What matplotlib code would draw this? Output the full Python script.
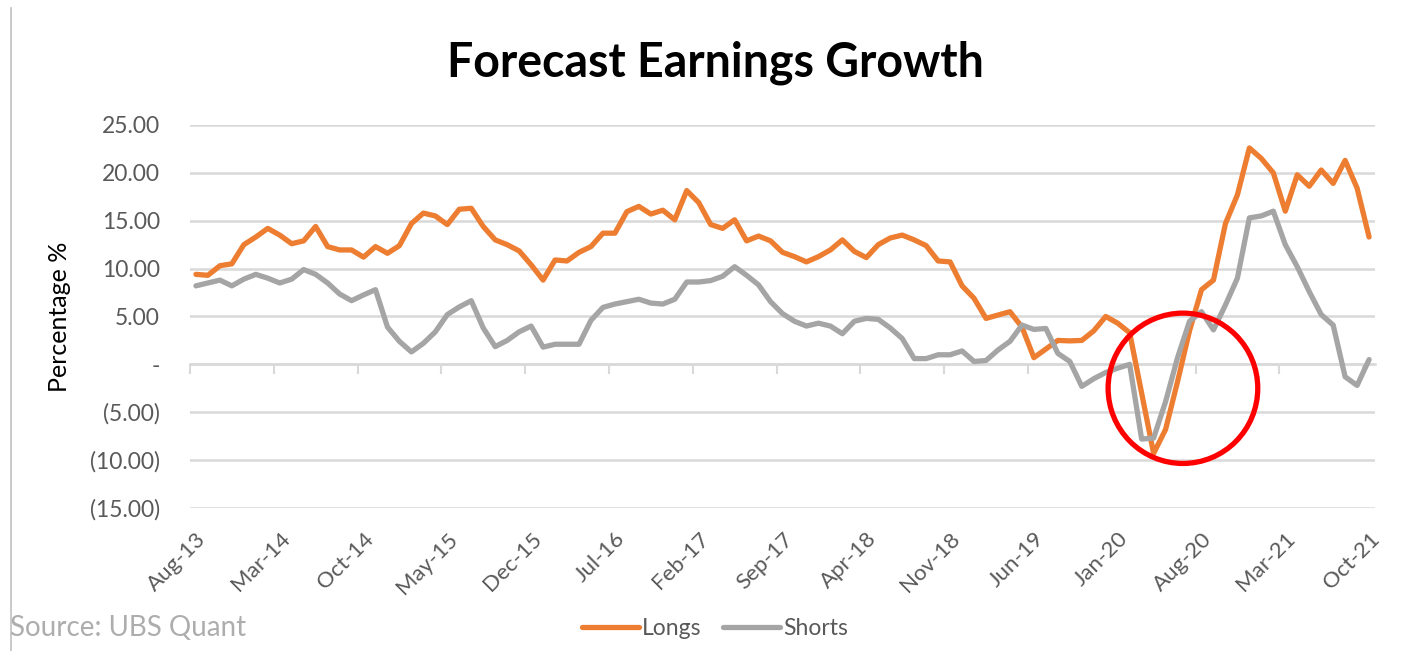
import matplotlib
matplotlib.use("Agg")
import matplotlib.pyplot as plt
from matplotlib.patches import Ellipse
from matplotlib.lines import Line2D
import numpy as np

plt.rcParams['font.family'] = ['Lato', 'DejaVu Sans']

# ---------------- data ----------------
longs = [9.4, 9.3, 10.3, 10.5, 12.5, 13.3, 14.2, 13.5, 12.6, 12.9,
         14.4, 12.3, 11.95, 11.95, 11.2, 12.3, 11.6, 12.4, 14.7, 15.8,
         15.5, 14.6, 16.2, 16.3, 14.4, 13.0, 12.5, 11.85, 10.4, 8.8,
         10.9, 10.8, 11.7, 12.3, 13.7, 13.7, 15.95, 16.5, 15.7, 16.1,
         15.1, 18.15, 16.9, 14.6, 14.2, 15.1, 12.9, 13.4, 12.9, 11.7,
         11.25, 10.7, 11.25, 11.95, 13.0, 11.8, 11.15, 12.5, 13.2, 13.5,
         13.0, 12.4, 10.8, 10.7, 8.2, 6.9, 4.8, 5.15, 5.5, 3.9,
         0.7, 1.6, 2.5, 2.45, 2.5, 3.5, 5.0, 4.3, 3.3, -3.0,
         -9.3, -6.8, -1.8, 3.5, 7.8, 8.8, 14.7, 17.7, 22.6, 21.5,
         20.0, 16.0, 19.8, 18.6, 20.3, 18.9, 21.3, 18.4, 13.3]

shorts = [8.2, 8.5, 8.8, 8.2, 8.9, 9.4, 9.0, 8.5, 8.9, 9.9,
          9.4, 8.5, 7.35, 6.65, 7.25, 7.8, 3.9, 2.4, 1.3, 2.2,
          3.4, 5.2, 6.0, 6.65, 3.8, 1.85, 2.5, 3.4, 4.0, 1.8,
          2.1, 2.1, 2.1, 4.6, 5.95, 6.3, 6.55, 6.8, 6.4, 6.3,
          6.8, 8.6, 8.6, 8.75, 9.2, 10.2, 9.3, 8.3, 6.55, 5.3,
          4.5, 4.0, 4.3, 4.0, 3.2, 4.5, 4.8, 4.7, 3.8, 2.7,
          0.6, 0.6, 1.0, 1.0, 1.4, 0.3, 0.4, 1.5, 2.4, 4.1,
          3.65, 3.75, 1.15, 0.3, -2.3, -1.5, -0.85, -0.4, 0.0, -7.8,
          -7.7, -3.9, 0.7, 4.5, 5.5, 3.6, 6.2, 9.0, 15.3, 15.5,
          16.0, 12.5, 10.2, 7.6, 5.2, 4.1, -1.3, -2.2, 0.5]

x_labels = ['Aug-13', 'Mar-14', 'Oct-14', 'May-15', 'Dec-15', 'Jul-16', 'Feb-17',
            'Sep-17', 'Apr-18', 'Nov-18', 'Jun-19', 'Jan-20', 'Aug-20', 'Mar-21', 'Oct-21']
label_step = 7
y_ticks = [25, 20, 15, 10, 5, 0, -5, -10, -15]
y_labels = ['25.00', '20.00', '15.00', '10.00', '5.00', '-', '(5.00)', '(10.00)', '(15.00)']

title = 'Forecast Earnings Growth'
source = 'Source: UBS Quant'

# ---------------- figure ----------------
fig = plt.figure(figsize=(14.06, 6.51), dpi=100)
ax = fig.add_axes([0.1351, 0.2197, 0.8429, 0.5883])

n = len(longs)
xs = np.arange(n)
c_long = '#ED7D31'
c_short = '#A5A5A5'
grid_c = '#D9D9D9'
txt_c = '#595959'

ax.plot(xs, longs, color=c_long, lw=3.8, solid_joinstyle='round', solid_capstyle='round', label='Longs', zorder=3)
ax.plot(xs, shorts, color=c_short, lw=3.8, solid_joinstyle='round', solid_capstyle='round', label='Shorts', zorder=3)

ax.set_xlim(-0.5, n - 0.5)
ax.set_ylim(-15, 25)
ax.set_yticks(y_ticks)
ax.set_yticklabels(y_labels)
ax.tick_params(axis='y', length=0, pad=21.5, labelsize=16.5, labelcolor=txt_c)
ax.yaxis.grid(True, color=grid_c, lw=1.8)
ax.set_axisbelow(True)

for s in ['left', 'right', 'top']:
    ax.spines[s].set_visible(False)
ax.spines['bottom'].set_position(('data', 0))
ax.spines['bottom'].set_color(grid_c)
ax.spines['bottom'].set_linewidth(1.8)

# tick marks at category boundaries on the zero line
ax.set_xticks([])
ax.set_xticks(np.arange(-0.5, n, label_step), minor=True)
ax.tick_params(axis='x', which='minor', direction='out', length=7, width=1.5, color=grid_c, labelbottom=False)

# labels at the bottom of the plot
sec = ax.secondary_xaxis(0.0)
sec.set_xticks(np.arange(0, n, label_step))
sec.set_xticklabels(x_labels, rotation=45, ha='right', rotation_mode='anchor')
sec.tick_params(axis='x', length=0, pad=15, labelsize=16, labelcolor=txt_c)
sec.spines['bottom'].set_visible(False)

ax.set_ylabel('Percentage %', fontsize=18, color='#000000', labelpad=14)

fig.text(0.5085, 0.903, title, ha='center', va='center', fontsize=33.5, fontweight='bold', color='#000000')
fig.text(0.007, 0.035, source, ha='left', va='center', fontsize=20, color='#ADADAD')

# highlight circle
ax.add_patch(Ellipse((82.45, -2.5), 12.5, 15.7, fill=False, ec='#FF0000', lw=3.8, zorder=5, clip_on=False))

fig.legend(loc='center', bbox_to_anchor=(0.5085, 0.035), ncol=2, frameon=False,
           fontsize=16.5, labelcolor=txt_c, handlelength=2.5, handletextpad=0.12, columnspacing=0.95)

fig.add_artist(Line2D([0.0075, 0.0075], [0.0, 0.988], transform=fig.transFigure, color='#C0C0C0', lw=1.2))

fig.savefig('out.png', dpi=100, facecolor='white')
